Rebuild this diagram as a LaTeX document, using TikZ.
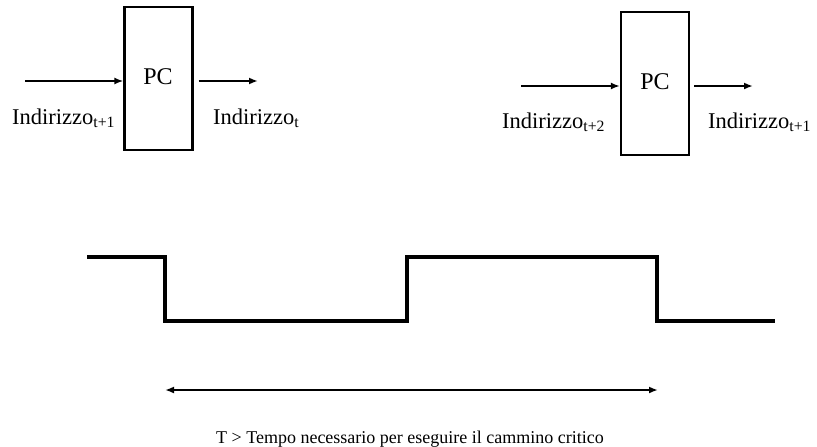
\documentclass[tikz,border=0pt]{standalone}
\usepackage{fontspec}
\setmainfont{Liberation Serif}
\usetikzlibrary{arrows.meta}
\tikzset{
  reg/.style={draw, line width=2.2pt, minimum width=68pt, minimum height=143pt, inner sep=0pt},
  sig/.style={line width=2pt, -{Latex[length=9pt,width=7pt]}},
  lbl/.style={anchor=base west, inner sep=0pt, font=\fontsize{22.5}{26}\selectfont}
}
\begin{document}
\begin{tikzpicture}[x=1pt,y=-1pt]
\useasboundingbox (0,0) rectangle (817,447);
% primo registro
\node[reg] (pc1) at (158.5,78.5) {};
\node[lbl, anchor=base, font=\fontsize{24}{26}\selectfont] (pct1) at (158,84) {PC};
\coordinate (in1) at (25,81);
\coordinate (out1) at (258,81);
\draw[sig] (in1) -- (in1 -| pc1.west);
\draw[sig] (out1 -| pc1.east) ++(5,0) -- (out1);
\node[lbl] (a1) at (12,124) {Indirizzo\textsubscript{t+1}};
\node[lbl] (b1) at (213,124) {Indirizzo\textsubscript{t}};
% secondo registro
\node[reg] (pc2) at (655,83.5) {};
\node[lbl, anchor=base, font=\fontsize{24}{26}\selectfont] (pct2) at (655,89) {PC};
\coordinate (in2) at (521,86);
\coordinate (out2) at (753,86);
\draw[sig] (in2) -- (in2 -| pc2.west);
\draw[sig] (out2 -| pc2.east) ++(4,0) -- (out2);
\node[lbl] (a2) at (502,128) {Indirizzo\textsubscript{t+2}};
\node[lbl] (b2) at (708,128) {Indirizzo\textsubscript{t+1}};
% clock
\draw[line width=3.4pt] (87,257) -| (165,321) -| (407,257) -| (657,321) -- (775,321);
% periodo
\coordinate (t0) at (165,390);
\coordinate (t1) at (658,390);
\draw[line width=2pt, {Latex[length=9pt,width=7pt]}-{Latex[length=9pt,width=7pt]}] (t0) -- (t1);
\node[lbl, anchor=base, font=\fontsize{18}{20}\selectfont] (per) at (410,443) {T > Tempo necessario per eseguire il cammino critico};
\end{tikzpicture}
\end{document}
